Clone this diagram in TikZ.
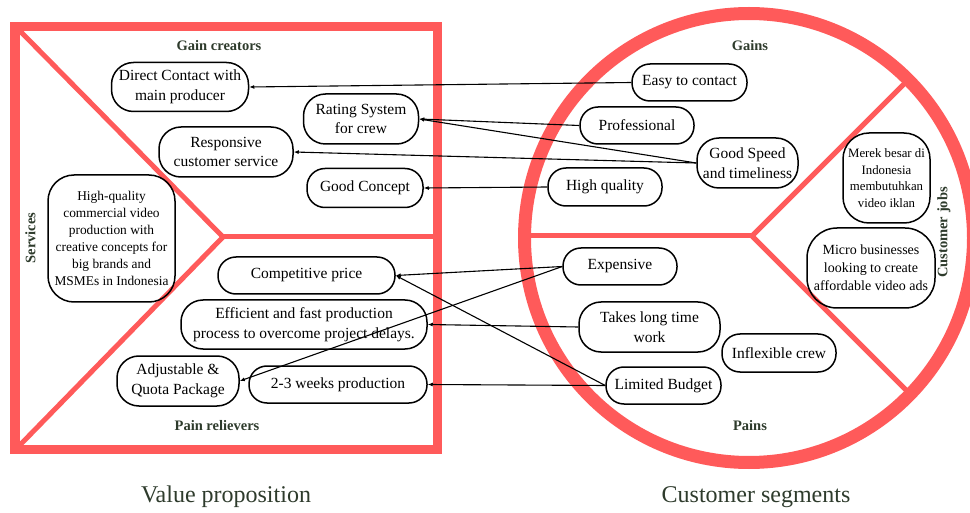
\documentclass[tikz,border=0pt]{standalone}
\usepackage{fontspec}
\setmainfont{Liberation Serif}
\usetikzlibrary{arrows.meta}
\definecolor{vpred}{HTML}{FF5A5A}
\definecolor{lbl}{HTML}{2E3B2C}
\tikzset{
  pill/.style={draw, line width=1.5pt, align=center, inner sep=1pt,
    font=\fontsize{15.5}{19.5}\selectfont},
  secl/.style={font=\fontsize{14.5}{16}\selectfont\bfseries, text=lbl},
  capl/.style={font=\fontsize{24}{26}\selectfont, text=lbl},
  conn/.style={line width=1.1pt, -{Latex[length=5pt,width=4pt]}},
  redthick/.style={vpred, line width=9.5pt},
  redthin/.style={vpred, line width=5pt},
}
\begin{document}
\begin{tikzpicture}[x=1pt,y=-1pt]
\useasboundingbox (0,0) rectangle (970,513);
\clip (0,0) rectangle (970,513);

% Value proposition square
\draw[redthin, line join=miter] (20,31) -- (223,237) -- (20,445);
\draw[redthin] (223,237) -- (435,237);
\draw[redthick] (15,26.5) rectangle (437.5,449.5);

% Customer segment circle
\draw[redthin] (525,236) -- (752,236);
\draw[redthin, line join=miter] (910,78) -- (752,236) -- (910,394);
\draw[vpred, line width=13pt] (749,238) circle[radius=224.5pt];

% Section labels
\node[secl] (lgc) at (219,46) {Gain creators};
\node[secl] (lpr) at (217,426) {Pain relievers};
\node[secl, rotate=90] (lsv) at (30.5,238) {Services};
\node[secl] (lga) at (750,45.5) {Gains};
\node[secl] (lpa) at (750,426) {Pains};
\node[secl, rotate=90] (lcj) at (944,232.5) {Customer jobs};
\node[capl] (cvp) at (226,497) {Value proposition};
\node[capl] (ccs) at (756,497) {Customer segments};

% Gain creators
\node[pill, rounded corners=22pt, minimum width=137pt, minimum height=49pt] (dc) at (180,87) {Direct Contact with\\main producer};
\node[pill, rounded corners=22pt, minimum width=115pt, minimum height=50pt] (rs) at (361,119) {Rating System\\for crew};
\node[pill, rounded corners=22pt, minimum width=134pt, minimum height=50pt] (rc) at (226,152) {Responsive\\customer service};
\node[pill, rounded corners=18pt, minimum width=116pt, minimum height=39pt] (gc) at (365,188) {Good Concept};

% Services
\node[pill, rounded corners=26pt, minimum width=127pt, minimum height=127pt,
  font=\fontsize{13.4}{17}\selectfont] (sv) at (111.5,238.5)
  {High-quality\\commercial video\\production with\\creative concepts for\\big brands and\\MSMEs in Indonesia};

% Pain relievers
\node[pill, rounded corners=18pt, minimum width=177pt, minimum height=37pt] (cp) at (306.5,275.5) {Competitive price};
\node[pill, rounded corners=22pt, minimum width=246pt, minimum height=49pt] (ef) at (304,324.5) {Efficient and fast production\\process to overcome project delays.};
\node[pill, rounded corners=22pt, minimum width=122pt, minimum height=50pt] (aq) at (178,381) {Adjustable \&\\Quota Package};
\node[pill, rounded corners=18pt, minimum width=178pt, minimum height=37pt] (tw) at (338,384.5) {2-3 weeks production};

% Gains
\node[pill, rounded corners=18pt, minimum width=115pt, minimum height=37pt] (ec) at (689.5,82.5) {Easy to contact};
\node[pill, rounded corners=18pt, minimum width=114pt, minimum height=37pt] (pf) at (637,125.5) {Professional};
\node[pill, rounded corners=22pt, minimum width=101pt, minimum height=50pt] (gs) at (747.5,163) {Good Speed\\and timeliness};
\node[pill, rounded corners=18pt, minimum width=114pt, minimum height=38pt] (hq) at (605,187) {High quality};

% Customer jobs
\node[pill, rounded corners=26pt, minimum width=87pt, minimum height=90pt,
  font=\fontsize{12.8}{16.7}\selectfont] (mb) at (886.5,178) {Merek besar di\\Indonesia\\membutuhkan\\video iklan};
\node[pill, rounded corners=30pt, minimum width=128pt, minimum height=80pt,
  font=\fontsize{14}{18}\selectfont] (mi) at (871,268) {Micro businesses\\looking to create\\affordable video ads};

% Pains
\node[pill, rounded corners=18pt, minimum width=114pt, minimum height=37pt] (ex) at (620,266.5) {Expensive};
\node[pill, rounded corners=22pt, minimum width=141pt, minimum height=50pt] (tl) at (649.5,327) {Takes long time\\work};
\node[pill, rounded corners=18pt, minimum width=114pt, minimum height=38pt] (ic) at (779,353) {Inflexible crew};
\node[pill, rounded corners=18pt, minimum width=115pt, minimum height=37pt] (lb) at (663.5,385.5) {Limited Budget};

% Connectors
\draw[conn] (ec.west) -- (dc.east);
\draw[conn] (pf.west) -- (rs.east);
\draw[conn] (gs.west) -- (rs.east);
\draw[conn] (gs.west) -- (rc.east);
\draw[conn] (hq.west) -- (gc.east);
\draw[conn] (ex.west) -- (cp.east);
\draw[conn] (ex.west) -- (aq.east);
\draw[conn] (tl.west) -- (ef.east);
\draw[conn] (lb.west) -- (cp.east);
\draw[conn] (lb.west) -- (tw.east);
\end{tikzpicture}
\end{document}
